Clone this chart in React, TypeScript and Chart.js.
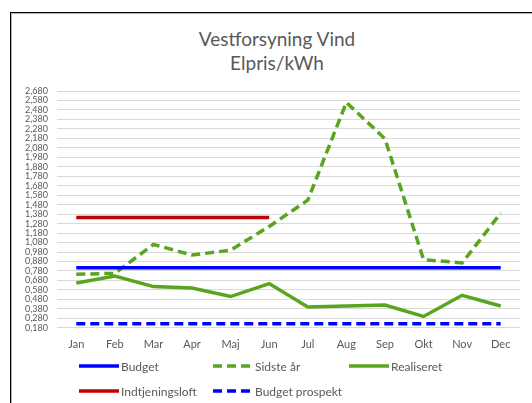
import React, { useEffect, useRef } from "react";
import { Chart, registerables } from "chart.js";

Chart.register(...registerables);

const months = ["Jan", "Feb", "Mar", "Apr", "Maj", "Jun", "Jul", "Aug", "Sep", "Okt", "Nov", "Dec"];
const budget = [0.815, 0.815, 0.815, 0.815, 0.815, 0.815, 0.815, 0.815, 0.815, 0.815, 0.815, 0.815];
const sidsteAar = [0.745, 0.755, 1.06, 0.948, 1.0, 1.25, 1.527, 2.56, 2.176, 0.9, 0.865, 1.39];
const realiseret = [0.654, 0.727, 0.615, 0.6, 0.51, 0.647, 0.4, 0.41, 0.42, 0.3, 0.523, 0.41];
const indtjeningsloft = [1.345, 1.345, 1.345, 1.345, 1.345, 1.345, null, null, null, null, null, null];
const budgetProspekt = [0.222, 0.222, 0.222, 0.222, 0.222, 0.222, 0.222, 0.222, 0.222, 0.222, 0.222, 0.222];
const yTicks = [0.18, 0.28, 0.38, 0.48, 0.58, 0.68, 0.78, 0.88, 0.98, 1.08, 1.18, 1.28, 1.38, 1.48, 1.58, 1.68, 1.78, 1.88, 1.98, 2.08, 2.18, 2.28, 2.38, 2.48, 2.58, 2.68];
const titleLines = ["Vestforsyning Vind", "Elpris/kWh"];

const BLUE = "#0000ff";
const GREEN = "#5aa51f";
const RED = "#c00000";
const TEXT = "#595959";
const FONT = "Lato, 'Open Sans', sans-serif";
const DASH = [9, 5];

type LegendItem = { label: string; color: string; dashed: boolean; x: number; y: number };
const legendItems: LegendItem[] = [
  { label: "Budget", color: BLUE, dashed: false, x: 79, y: 366 },
  { label: "Sidste år", color: GREEN, dashed: true, x: 213, y: 366 },
  { label: "Realiseret", color: GREEN, dashed: false, x: 349, y: 366 },
  { label: "Indtjeningsloft", color: RED, dashed: false, x: 79, y: 391 },
  { label: "Budget prospekt", color: BLUE, dashed: true, x: 213, y: 391 },
];

export default function App() {
  const ref = useRef<HTMLCanvasElement | null>(null);

  useEffect(() => {
    if (!ref.current) return;
    const chart = new Chart(ref.current, {
      type: "line",
      data: {
        labels: months,
        datasets: [
          { label: "Budget", data: budget, borderColor: BLUE, borderWidth: 3.5, pointRadius: 0 },
          { label: "Sidste år", data: sidsteAar, borderColor: GREEN, borderWidth: 3.5, borderDash: DASH, pointRadius: 0 },
          { label: "Realiseret", data: realiseret, borderColor: GREEN, borderWidth: 3.5, pointRadius: 0 },
          { label: "Indtjeningsloft", data: indtjeningsloft, borderColor: RED, borderWidth: 3.5, pointRadius: 0, spanGaps: false },
          { label: "Budget prospekt", data: budgetProspekt, borderColor: BLUE, borderWidth: 3.5, borderDash: DASH, pointRadius: 0 },
        ],
      },
      options: {
        responsive: false,
        animation: false,
        layout: { padding: { left: 10, right: 12, top: 91, bottom: 42 } },
        plugins: {
          legend: { display: false },
          tooltip: { enabled: false },
          title: { display: false },
        },
        scales: {
          x: {
            offset: true,
            grid: { display: false, drawTicks: false },
            border: { display: false },
            ticks: { color: TEXT, font: { family: FONT, size: 11 }, padding: 10, maxRotation: 0 },
          },
          y: {
            min: 0.18,
            max: 2.68,
            afterBuildTicks: (axis: any) => {
              axis.ticks = yTicks.map((v) => ({ value: v }));
            },
            afterFit: (axis: any) => {
              axis.width = 47;
            },
            grid: { color: "#d9d9d9", lineWidth: 1, drawTicks: false },
            border: { display: false },
            ticks: {
              color: TEXT,
              font: { family: FONT, size: 9 },
              padding: 9,
              autoSkip: false,
              callback: (v: any) => Number(v).toFixed(3).replace(".", ","),
            },
          },
        },
      },
    });
    return () => chart.destroy();
  }, []);

  return (
    <div style={{ position: "fixed", left: 0, top: 0, width: 532, height: 403, background: "#fff", overflow: "hidden" }}>
      <div
        style={{
          position: "absolute",
          left: 10,
          top: 12,
          width: 600,
          height: 500,
          borderLeft: "1px solid #000",
          borderTop: "1px solid #000",
          boxShadow: "inset 1px 1px 0 #b0b0b0",
        }}
      />
      <div
        style={{
          position: "absolute",
          left: 127,
          top: 27,
          width: 300,
          textAlign: "center",
          fontFamily: FONT,
          fontSize: 19,
          fontWeight: 400,
          lineHeight: "24px",
          color: TEXT,
        }}
      >
        {titleLines.map((t) => (
          <div key={t}>{t}</div>
        ))}
      </div>
      <canvas ref={ref} width={532} height={403} style={{ position: "absolute", left: 0, top: 0 }} />
      {legendItems.map((it) => (
        <div
          key={it.label}
          style={{
            position: "absolute",
            left: it.x,
            top: it.y - 9,
            height: 18,
            display: "flex",
            alignItems: "center",
            fontFamily: FONT,
            fontSize: 12,
            color: TEXT,
            whiteSpace: "nowrap",
          }}
        >
          <svg width={40} height={6} style={{ marginRight: 2 }}>
            <line
              x1={0}
              y1={3}
              x2={40}
              y2={3}
              stroke={it.color}
              strokeWidth={3.5}
              strokeDasharray={it.dashed ? DASH.join(",") : undefined}
            />
          </svg>
          <span>{it.label}</span>
        </div>
      ))}
    </div>
  );
}
